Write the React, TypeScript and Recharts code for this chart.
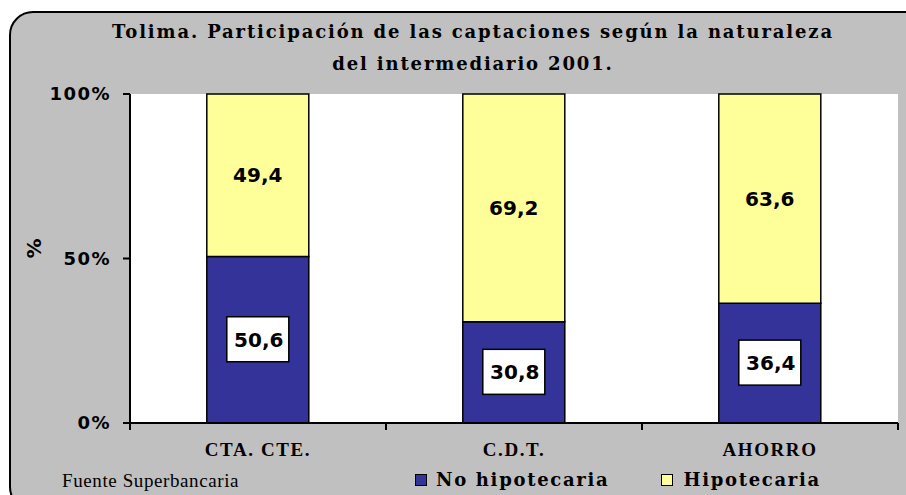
import { BarChart, Bar, XAxis, YAxis, CartesianGrid, LabelList } from 'recharts'

const categories = ['CTA. CTE.', 'C.D.T.', 'AHORRO']
const noHipotecaria = [50.6, 30.8, 36.4]
const hipotecaria = [49.4, 69.2, 63.6]
const yTicks = [0, 50, 100]

const data = categories.map((name, i) => ({
  name,
  noHip: noHipotecaria[i],
  hip: hipotecaria[i],
}))

const BLUE = '#333399'
const YELLOW = '#FFFF99'
const fmt = (v: number) => v.toFixed(1).replace('.', ',')

function BoxLabel(props: any) {
  const { x, y, width, height, value } = props
  const cx = x + width / 2
  const cy = y + height / 2
  return (
    <g>
      <rect x={cx - 31} y={cy - 23} width={62} height={45} fill="#fff" stroke="#000" strokeWidth={1.5} />
      <text x={cx + 1} y={cy} textAnchor="middle" dominantBaseline="central"
        fontFamily="DejaVu Sans" fontWeight="bold" fontSize={20} fill="#000">
        {fmt(value)}
      </text>
    </g>
  )
}

function PlainLabel(props: any) {
  const { x, y, width, height, value } = props
  return (
    <text x={x + width / 2} y={y + height / 2} textAnchor="middle" dominantBaseline="central"
      fontFamily="DejaVu Sans" fontWeight="bold" fontSize={20} fill="#000">
      {fmt(value)}
    </text>
  )
}

function CatTick(props: any) {
  const { x, y, payload, index } = props
  const half = payload.offset ?? 128
  return (
    <g>
      <line x1={x - half} y1={423} x2={x - half} y2={430} stroke="#000" strokeWidth={2} />
      {index === categories.length - 1 && (
        <line x1={x + half} y1={423} x2={x + half} y2={430} stroke="#000" strokeWidth={2} />
      )}
      <text x={x} y={y} dy="0.71em" textAnchor="middle" fontFamily="Liberation Serif"
        fontWeight="bold" fontSize={19} letterSpacing={1.6} fill="#000">
        {payload.value}
      </text>
    </g>
  )
}

export default function App() {
  return (
    <div style={{ position: 'absolute', left: 0, top: 0, width: 906, height: 495, overflow: 'hidden', background: '#fff' }}>
      <div style={{
        position: 'absolute', left: 9, top: 11, width: 920, height: 500,
        background: '#C0C0C0', border: '2.5px solid #000', borderRadius: 24, boxSizing: 'border-box',
      }} />
      <div style={{
        position: 'absolute', left: 60, width: 826, top: 16, textAlign: 'center',
        fontFamily: 'DejaVu Serif', fontWeight: 'bold', fontSize: 18, letterSpacing: 1.85,
        lineHeight: '32px', color: '#000',
      }}>
        Tolima. Participación de las captaciones según la naturaleza<br />del intermediario 2001.
      </div>
      <div style={{ position: 'absolute', left: 0, top: 0 }}>
        <BarChart width={906} height={495} data={data} barCategoryGap="30%"
          margin={{ top: 94, right: 8, left: 0, bottom: 32 }}>
          <CartesianGrid horizontal={false} vertical={false} fill="#fff" />
          <XAxis dataKey="name" height={40} tickLine={false} tickSize={6} tickMargin={14}
            axisLine={{ stroke: '#000', strokeWidth: 2 }} tick={<CatTick />} interval={0} />
          <XAxis xAxisId="top" orientation="top" dataKey="name" height={0} tick={false} tickLine={false}
            axisLine={{ stroke: '#000', strokeWidth: 2 }} />
          <YAxis width={130} domain={[0, 100]} ticks={yTicks} tickFormatter={(v) => `${v}%`}
            axisLine={{ stroke: '#000', strokeWidth: 2 }} tickLine={{ stroke: '#000', strokeWidth: 2 }}
            tickSize={7} tickMargin={12}
            tick={{ fontFamily: 'DejaVu Sans', fontWeight: 'bold', fontSize: 18, fill: '#000', letterSpacing: 1.5 }}
            label={{ value: '%', angle: -90, position: 'insideLeft', offset: 34,
              style: { fontFamily: 'DejaVu Sans', fontWeight: 'bold', fontSize: 20, fill: '#000' } }} />
          <YAxis yAxisId="right" orientation="right" width={0} domain={[0, 100]} tick={false} tickLine={false}
            axisLine={{ stroke: '#000', strokeWidth: 2 }} />
          <Bar dataKey="noHip" stackId="a" fill={BLUE} stroke="#000" strokeWidth={1.5} isAnimationActive={false}>
            <LabelList dataKey="noHip" content={<BoxLabel />} />
          </Bar>
          <Bar dataKey="hip" stackId="a" fill={YELLOW} stroke="#000" strokeWidth={1.5} isAnimationActive={false}>
            <LabelList dataKey="hip" content={<PlainLabel />} />
          </Bar>
        </BarChart>
      </div>
      <div style={{
        position: 'absolute', left: 62, top: 470, fontFamily: 'Liberation Serif', fontSize: 19,
        letterSpacing: 0.6, color: '#000', whiteSpace: 'nowrap',
      }}>
        Fuente Superbancaria
      </div>
      <div style={{
        position: 'absolute', left: 415, top: 469, display: 'flex', alignItems: 'center',
        fontFamily: 'DejaVu Serif', fontWeight: 'bold', fontSize: 18, letterSpacing: 1.7, color: '#000',
        whiteSpace: 'nowrap',
      }}>
        <span style={{ width: 10, height: 10, background: BLUE, border: '1.5px solid #000', marginRight: 9 }} />
        <span style={{ marginRight: 52 }}>No hipotecaria</span>
        <span style={{ width: 10, height: 10, background: YELLOW, border: '1.5px solid #000', marginRight: 10 }} />
        <span>Hipotecaria</span>
      </div>
    </div>
  )
}
